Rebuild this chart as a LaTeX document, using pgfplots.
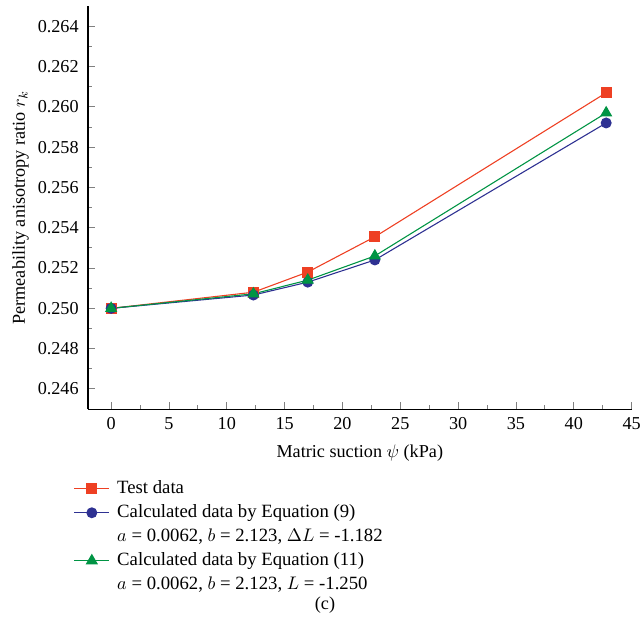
\documentclass[border=0pt,10pt]{standalone}
\usepackage{fontspec}
\setmainfont{Liberation Serif}
\usepackage{pgfplots}
\pgfplotsset{compat=1.18}
\definecolor{cred}{RGB}{238,64,35}
\definecolor{cblue}{RGB}{46,49,146}
\definecolor{cgreen}{RGB}{0,148,68}
\begin{document}
\begin{tikzpicture}
\useasboundingbox (-48.4pt,-125.4pt) rectangle (305.25pt,225pt);
\begin{axis}[
  at={(0,0)}, anchor=south west,
  scale only axis,
  width=299pt, height=221.65pt,
  xmin=-2, xmax=45, ymin=0.245, ymax=0.265,
  axis lines=left, axis line style={-, line width=0.6pt},
  clip=false,
  tick align=inside,
  tick style={line width=0.5pt},
  major tick length=4pt, minor tick length=2.2pt,
  xtick={0,5,...,45},
  ytick={0.246,0.248,...,0.2645},
  minor x tick num=1, minor y tick num=1,
  /pgf/number format/assume math mode=true,
  yticklabel style={xshift=-1.6pt, /pgf/number format/.cd,fixed,fixed zerofill,precision=3},
  xticklabel style={yshift=-1pt},
  xlabel={Matric suction $\psi$ (kPa)},
  ylabel={Permeability anisotropy ratio $r_k$},
  xlabel style={yshift=-1.5pt},
  ylabel style={yshift=-2pt},
  legend style={draw=none, fill=none, at={(-0.037,-0.158)}, anchor=north west, row sep=0pt, column sep=2.5pt,
     font=\fontsize{10.3}{12.5}\selectfont,
     nodes={text height=7.6pt, text depth=2.6pt, inner sep=1.5pt}},
  legend cell align=left,
  legend image code/.code={\draw[mark repeat=2,mark phase=2] plot coordinates {(0cm,0cm) (0.34cm,0cm) (0.68cm,0cm)};},
]
\addplot[cred, line width=0.6pt, mark=square*, mark size=2.7pt, mark options={solid}] coordinates {
(0,0.2500) (12.3,0.2508) (17.0,0.2518) (22.8,0.25355) (42.8,0.2607)};
\addlegendentry{Test data}
\addplot[cblue, line width=0.6pt, mark=*, mark size=2.7pt] coordinates {
(0,0.2500) (12.3,0.25066) (17.0,0.2513) (22.8,0.2524) (42.8,0.2592)};
\addlegendentry{Calculated data by Equation (9)}
\addlegendimage{empty legend}
\addlegendentry{$a$ = 0.0062, $b$ = 2.123, $\Delta L$ = -1.182}
\addplot[cgreen, line width=0.6pt, mark=triangle*, mark size=3.3pt] coordinates {
(0,0.2500) (12.3,0.25072) (17.0,0.2514) (22.8,0.2526) (42.8,0.2597)};
\addlegendentry{Calculated data by Equation (11)}
\addlegendimage{empty legend}
\addlegendentry{$a$ = 0.0062, $b$ = 2.123, $L$ = -1.250}
\node at (rel axis cs:0.436,-0.486) {(c)};
\end{axis}
\end{tikzpicture}
\end{document}
